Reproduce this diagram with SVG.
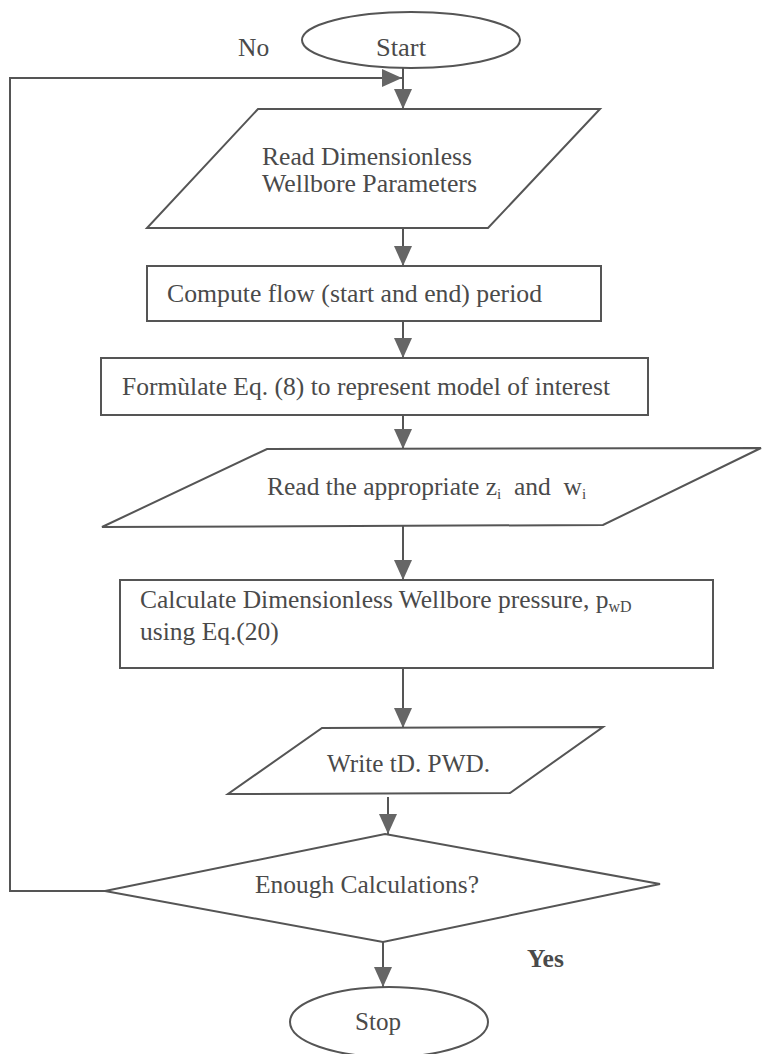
<svg xmlns="http://www.w3.org/2000/svg" width="762" height="1054" viewBox="0 0 762 1054">
<defs>
<style>
.sh{fill:none;stroke:#555;stroke-width:2}
.ln{fill:none;stroke:#555;stroke-width:2}
.t{font-family:'Liberation Serif','DejaVu Serif',serif;fill:#4a4a4a;font-size:25.5px}
.pre{white-space:pre}
</style>
<marker id="ah" markerUnits="userSpaceOnUse" markerWidth="20" markerHeight="18" refX="20" refY="9" orient="auto" viewBox="0 0 20 18">
<path d="M0,0 L20,9 L0,18 Z" fill="#666"/>
</marker>
</defs>
<rect width="762" height="1054" fill="#fff"/>
<g id="connectors">
<path class="ln" d="M403,68 V109" marker-end="url(#ah)"/>
<path class="ln" d="M105,891 H10 V78 H402" marker-end="url(#ah)"/>
<path class="ln" d="M403,228 V266" marker-end="url(#ah)"/>
<path class="ln" d="M403,321 V358" marker-end="url(#ah)"/>
<path class="ln" d="M403,415 V449" marker-end="url(#ah)"/>
<path class="ln" d="M403,525 V580" marker-end="url(#ah)"/>
<path class="ln" d="M403,668 V728" marker-end="url(#ah)"/>
<path class="ln" d="M388,797 V834" marker-end="url(#ah)"/>
<path class="ln" d="M383,942 V987" marker-end="url(#ah)"/>
</g>
<g id="start">
<ellipse class="sh" cx="411" cy="40" rx="109" ry="28"/>
<text class="t" x="376" y="56" textLength="50" lengthAdjust="spacingAndGlyphs">Start</text>
</g>
<text class="t" x="238" y="56">No</text>
<g id="read-params">
<polygon class="sh" points="258,109 600,109 488,228 147,228"/>
<text class="t" x="262" y="165" font-size="23.5" textLength="210" lengthAdjust="spacingAndGlyphs">Read Dimensionless</text>
<text class="t" x="262" y="192" font-size="23.5" textLength="215" lengthAdjust="spacingAndGlyphs">Wellbore Parameters</text>
</g>
<g id="compute">
<rect class="sh" x="147" y="266" width="454" height="55"/>
<text class="t" x="167" y="302" textLength="375" lengthAdjust="spacingAndGlyphs">Compute flow (start and end) period</text>
</g>
<g id="formulate">
<rect class="sh" x="101" y="358" width="547" height="57"/>
<text class="t" x="122" y="395" textLength="488" lengthAdjust="spacingAndGlyphs">Formùlate Eq. (8) to represent model of interest</text>
</g>
<g id="read-zw">
<polygon class="sh" points="267,449 761,448 603,525 102,527"/>
<text class="t pre" x="267" y="495">Read the appropriate z<tspan font-size="15" dy="4">i</tspan><tspan dy="-4">  and  w</tspan><tspan font-size="15" dy="4">i</tspan></text>
</g>
<g id="calculate">
<rect class="sh" x="120" y="580" width="593" height="88"/>
<text class="t" x="140" y="608">Calculate Dimensionless Wellbore pressure, p<tspan font-size="16" dy="4">wD</tspan></text>
<text class="t" x="140" y="640">using Eq.(20)</text>
</g>
<g id="write">
<polygon class="sh" points="322,728 603,727 510,793 228,794"/>
<text class="t" x="327" y="772" textLength="163" lengthAdjust="spacingAndGlyphs">Write tD. PWD.</text>
</g>
<g id="decision">
<polygon class="sh" points="385,834 660,884 383,942 105,891"/>
<text class="t" x="255" y="893" textLength="224" lengthAdjust="spacingAndGlyphs">Enough Calculations?</text>
</g>
<text class="t" x="527" y="967" font-weight="bold">Yes</text>
<g id="stop">
<ellipse class="sh" cx="389" cy="1022" rx="99" ry="35"/>
<text class="t" x="355" y="1030" textLength="46" lengthAdjust="spacingAndGlyphs">Stop</text>
</g>
</svg>
